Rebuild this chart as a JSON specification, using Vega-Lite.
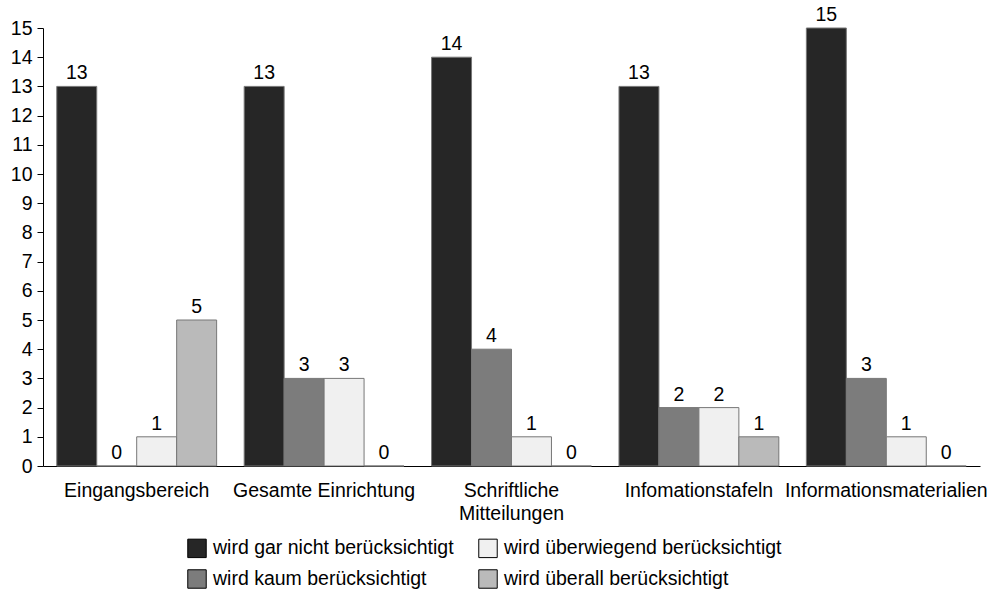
{
  "$schema": "https://vega.github.io/schema/vega-lite/v6.json",
  "width": 937,
  "height": 438,
  "autosize": {"type": "none"},
  "padding": {"left": 43, "top": 28, "right": 16, "bottom": 128},
  "background": "white",
  "config": {
    "font": "Liberation Sans",
    "view": {"stroke": null},
    "axis": {"labelFont": "Liberation Sans", "labelFontSize": 19.5, "labelColor": "#000", "domainColor": "#000", "tickColor": "#000", "grid": false, "title": null}
  },
  "data": {
    "values": [
      {"cat": "Eingangsbereich", "s": "wird gar nicht berücksichtigt", "v": 13},
      {"cat": "Eingangsbereich", "s": "wird kaum berücksichtigt", "v": 0},
      {"cat": "Eingangsbereich", "s": "wird überwiegend berücksichtigt", "v": 1},
      {"cat": "Eingangsbereich", "s": "wird überall berücksichtigt", "v": 5},
      {"cat": "Gesamte Einrichtung", "s": "wird gar nicht berücksichtigt", "v": 13},
      {"cat": "Gesamte Einrichtung", "s": "wird kaum berücksichtigt", "v": 3},
      {"cat": "Gesamte Einrichtung", "s": "wird überwiegend berücksichtigt", "v": 3},
      {"cat": "Gesamte Einrichtung", "s": "wird überall berücksichtigt", "v": 0},
      {"cat": "Schriftliche Mitteilungen", "s": "wird gar nicht berücksichtigt", "v": 14},
      {"cat": "Schriftliche Mitteilungen", "s": "wird kaum berücksichtigt", "v": 4},
      {"cat": "Schriftliche Mitteilungen", "s": "wird überwiegend berücksichtigt", "v": 1},
      {"cat": "Schriftliche Mitteilungen", "s": "wird überall berücksichtigt", "v": 0},
      {"cat": "Infomationstafeln", "s": "wird gar nicht berücksichtigt", "v": 13},
      {"cat": "Infomationstafeln", "s": "wird kaum berücksichtigt", "v": 2},
      {"cat": "Infomationstafeln", "s": "wird überwiegend berücksichtigt", "v": 2},
      {"cat": "Infomationstafeln", "s": "wird überall berücksichtigt", "v": 1},
      {"cat": "Informationsmaterialien", "s": "wird gar nicht berücksichtigt", "v": 15},
      {"cat": "Informationsmaterialien", "s": "wird kaum berücksichtigt", "v": 3},
      {"cat": "Informationsmaterialien", "s": "wird überwiegend berücksichtigt", "v": 1},
      {"cat": "Informationsmaterialien", "s": "wird überall berücksichtigt", "v": 0}
    ]
  },
  "encoding": {
    "x": {
      "field": "cat", "type": "nominal", "sort": null,
      "scale": {"paddingInner": 0.147, "paddingOuter": 0.0735},
      "axis": {"labelAngle": 0, "ticks": false, "labelPadding": 15, "labelLineHeight": 23, "labelLimit": 400, "labelOverlap": false,
        "labelExpr": "datum.label == 'Schriftliche Mitteilungen' ? ['Schriftliche', 'Mitteilungen'] : datum.label"}
    },
    "xOffset": {
      "field": "s", "type": "nominal",
      "scale": {"domain": ["wird gar nicht berücksichtigt", "wird kaum berücksichtigt", "wird überwiegend berücksichtigt", "wird überall berücksichtigt"], "padding": 0}
    },
    "y": {
      "field": "v", "type": "quantitative",
      "scale": {"domain": [0, 15]},
      "axis": {"values": [0,1,2,3,4,5,6,7,8,9,10,11,12,13,14,15], "tickSize": 6, "labelPadding": 5}
    }
  },
  "layer": [
    {
      "mark": {"type": "bar", "stroke": "#777", "strokeWidth": 1},
      "encoding": {
        "fill": {
          "field": "s", "type": "nominal",
          "scale": {
            "domain": ["wird gar nicht berücksichtigt", "wird überwiegend berücksichtigt", "wird kaum berücksichtigt", "wird überall berücksichtigt"],
            "range": ["#262626", "#f0f0f0", "#7c7c7c", "#bababa"]
          },
          "legend": {
            "title": null, "orient": "none", "legendX": 144, "legendY": 510, "direction": "horizontal", "columns": 2,
            "symbolType": "square", "symbolSize": 340, "symbolStrokeColor": "#000", "symbolStrokeWidth": 1,
            "labelFontSize": 19.5, "labelFont": "Liberation Sans", "labelColor": "#000", "labelLimit": 400,
            "rowPadding": 7, "columnPadding": 22, "labelOffset": 6
          }
        }
      }
    },
    {
      "mark": {"type": "text", "baseline": "bottom", "dy": -3, "fontSize": 19.5, "font": "Liberation Sans", "color": "#000"},
      "encoding": {"text": {"field": "v", "type": "quantitative"}}
    }
  ]
}
